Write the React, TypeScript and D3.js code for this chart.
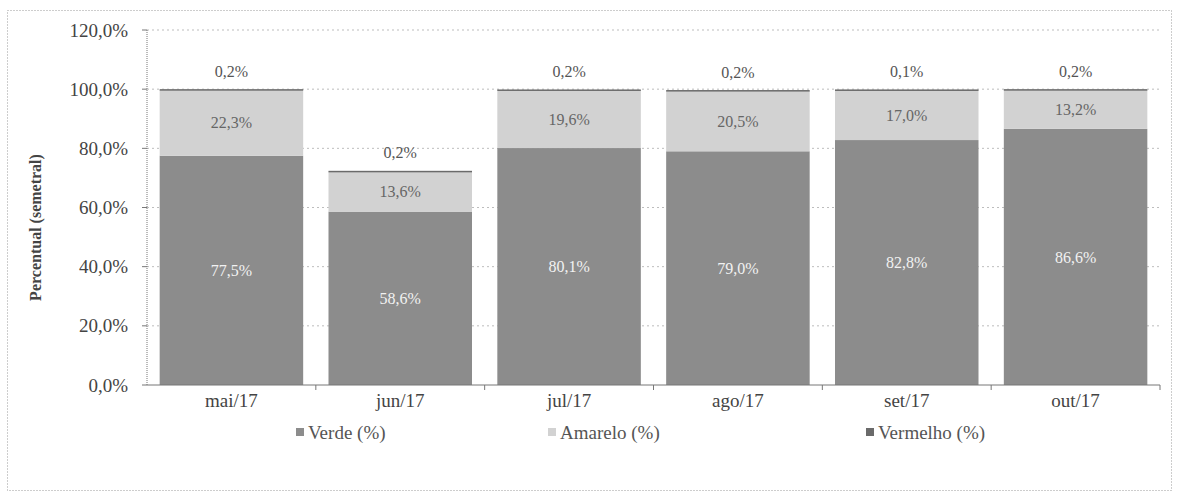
import React from "react";
import * as d3 from "d3";

const categories = ["mai/17", "jun/17", "jul/17", "ago/17", "set/17", "out/17"];
const verde = [77.5, 58.6, 80.1, 79.0, 82.8, 86.6];
const amarelo = [22.3, 13.6, 19.6, 20.5, 17.0, 13.2];
const vermelho = [0.2, 0.2, 0.2, 0.2, 0.1, 0.2];
const yTicks = [0, 20, 40, 60, 80, 100, 120];
const seriesNames = ["Verde (%)", "Amarelo (%)", "Vermelho (%)"];

const W = 1179, H = 492;
const left = 147, right = 1160, top = 30, bottom = 385;
const FONT = "Liberation Serif, Times New Roman, DejaVu Serif, serif";
const colors = ["#8c8c8c", "#d2d2d2", "#6a6a6a"];

const fmt = (v: number) => v.toFixed(1).replace(".", ",") + "%";

export default function App() {
  const x = d3.scaleBand<string>().domain(categories).range([left, right]).paddingInner(0.15).paddingOuter(0.075);
  const y = d3.scaleLinear().domain([0, 120]).range([bottom, top]);
  const rows = categories.map((c, i) => ({ c, v: verde[i], a: amarelo[i], r: vermelho[i] }));
  const stack = d3.stack<any>().keys(["v", "a", "r"])(rows);
  const step = x.step();
  const ts = { fontFamily: FONT };

  return (
    <svg width={W} height={H} style={{ position: "absolute", left: 0, top: 0, background: "#fff", fontFamily: FONT }}>
      <rect x={7.5} y={10.5} width={1164} height={480} fill="none" stroke="#9a9a9a" strokeDasharray="1,2" />
      {yTicks.map((t) => (
        <g key={t}>
          {t > 0 && (
            <line x1={left} x2={right} y1={y(t)} y2={y(t)} stroke="#bdbdbd" strokeDasharray="2,3" />
          )}
          <line x1={left - 5} x2={left} y1={y(t)} y2={y(t)} stroke="#777" />
          <text style={ts} x={128} y={y(t)} dy="0.35em" textAnchor="end" fontSize={19} fill="#444">{fmt(t)}</text>
        </g>
      ))}
      {stack.map((s, si) =>
        s.map((d, i) => (
          <rect key={si + "-" + i} x={x(categories[i])} width={x.bandwidth()} y={y(d[1])}
            height={Math.max(y(d[0]) - y(d[1]), si === 2 ? 1.5 : 0)} fill={colors[si]} />
        ))
      )}
      <line x1={left} x2={left} y1={top} y2={bottom} stroke="#777" strokeDasharray="1,1" />
      <line x1={left} x2={right} y1={bottom} y2={bottom} stroke="#777" />
      {categories.map((c, i) => (
        <line key={c} x1={left + step * (i + 1)} x2={left + step * (i + 1)} y1={bottom} y2={bottom + 5} stroke="#777" />
      ))}
      {categories.map((c) => (
        <text style={ts} key={c} x={x(c)! + x.bandwidth() / 2} y={bottom + 22} textAnchor="middle" fontSize={19} fill="#444">{c}</text>
      ))}
      {stack[0].map((d, i) => (
        <text style={ts} key={"lv" + i} x={x(categories[i])! + x.bandwidth() / 2} y={y((d[0] + d[1]) / 2)} dy="0.35em"
          textAnchor="middle" fontSize={16} fill="#f2f2f2">{fmt(verde[i])}</text>
      ))}
      {stack[1].map((d, i) => (
        <text style={ts} key={"la" + i} x={x(categories[i])! + x.bandwidth() / 2} y={y((d[0] + d[1]) / 2)} dy="0.35em"
          textAnchor="middle" fontSize={16} fill="#666">{fmt(amarelo[i])}</text>
      ))}
      {stack[2].map((d, i) => (
        <text style={ts} key={"lr" + i} x={x(categories[i])! + x.bandwidth() / 2} y={y(d[1]) - 18} dy="0.35em"
          textAnchor="middle" fontSize={16} fill="#555">{fmt(vermelho[i])}</text>
      ))}
      <text style={ts} transform={`translate(41,${(top + bottom) / 2 + 20}) rotate(-90)`} textAnchor="middle" fontSize={16}
        fontWeight="bold" fill="#444">Percentual (semetral)</text>
      {seriesNames.map((n, i) => {
        const lx = [300, 552, 870][i];
        return (
          <g key={n}>
            <rect x={lx - 4} y={428} width={8} height={8} fill={colors[i]} />
            <text style={ts} x={lx + 8} y={432} dy="0.35em" fontSize={19} fill="#555">{n}</text>
          </g>
        );
      })}
    </svg>
  );
}
